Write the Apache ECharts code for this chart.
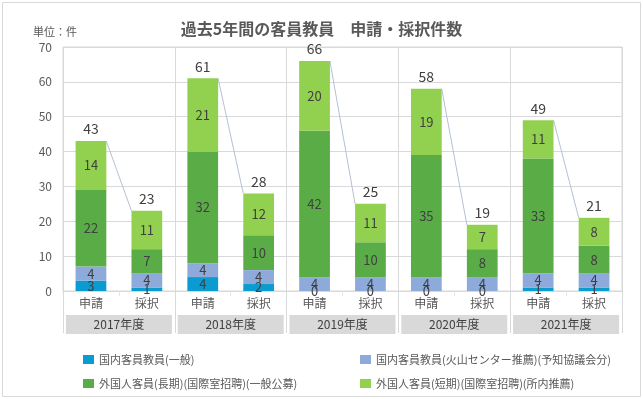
<!DOCTYPE html>
<html>
<head>
<meta charset="utf-8">
<script src="https://cdn.jsdelivr.net/npm/echarts@6/dist/echarts.min.js"></script>
<style>
  html, body { margin: 0; padding: 0; background: #fff; }
  #chart { width: 643px; height: 399px; }
</style>
</head>
<body>
<div id="chart"></div>
<script>
// データ
const categories = ['申請', '採択', '申請', '採択', '申請', '採択', '申請', '採択', '申請', '採択'];
const years = ['2017年度', '2018年度', '2019年度', '2020年度', '2021年度'];
const domesticGeneral = [3, 1, 4, 2, 0, 0, 0, 0, 1, 1];
const domesticVolcano = [4, 4, 4, 4, 4, 4, 4, 4, 4, 4];
const foreignLong = [22, 7, 32, 10, 42, 10, 35, 8, 33, 8];
const foreignShort = [14, 11, 21, 12, 20, 11, 19, 7, 11, 8];
const totals = [43, 23, 61, 28, 66, 25, 58, 19, 49, 21];
const yTicks = [0, 10, 20, 30, 40, 50, 60, 70];

const seriesNames = [
  '国内客員教員(一般)',
  '国内客員教員(火山センター推薦)(予知協議会分)',
  '外国人客員(長期)(国際室招聘)(一般公募)',
  '外国人客員(短期)(国際室招聘)(所内推薦)'
];
const colors = ['#0a9bd0', '#8eaadb', '#5aac47', '#92d050'];
const FONT = '"Noto Sans CJK JP", "Noto Sans", sans-serif';
const BAR_RATIO = 0.55;

// 申請→採択 のシリーズ線
const seriesLines = [];
for (let i = 0; i < categories.length; i += 2) {
  seriesLines.push([i, totals[i], i + 1, totals[i + 1]]);
}

const chart = echarts.init(document.getElementById('chart'));

function segSeries(name, data, color) {
  return {
    name: name,
    type: 'bar',
    stack: 'all',
    data: data,
    barWidth: (BAR_RATIO * 100) + '%',
    itemStyle: { color: color },
    label: {
      show: true,
      position: 'inside',
      color: '#404040',
      fontSize: 13,
      fontFamily: FONT
    },
    emphasis: { disabled: true }
  };
}

const option = {
  animation: false,
  textStyle: { fontFamily: FONT },
  title: {
    text: '過去5年間の客員教員　申請・採択件数',
    left: 'center',
    top: 16,
    textStyle: { fontSize: 16, fontWeight: 'bold', color: '#595959', fontFamily: FONT }
  },
  graphic: [
    {
      type: 'rect',
      shape: { x: 2.5, y: 2.5, width: 638, height: 394 },
      style: { fill: 'none', stroke: '#d9d9d9', lineWidth: 1 }
    },
    {
      type: 'text',
      left: 33,
      top: 26,
      style: { text: '単位：件', fill: '#595959', fontSize: 11, fontFamily: FONT }
    }
  ],
  legend: [
    {
      data: [seriesNames[0], seriesNames[2]],
      orient: 'vertical',
      left: 78,
      top: 349,
      itemGap: 13,
      itemWidth: 11,
      itemHeight: 9,
      icon: 'rect',
      textStyle: { color: '#595959', fontSize: 11, fontFamily: FONT }
    },
    {
      data: [seriesNames[1], seriesNames[3]],
      orient: 'vertical',
      left: 355,
      top: 349,
      itemGap: 13,
      itemWidth: 11,
      itemHeight: 9,
      icon: 'rect',
      textStyle: { color: '#595959', fontSize: 11, fontFamily: FONT }
    }
  ],
  grid: { left: 63, right: 21, top: 47, bottom: 108, show: true, borderColor: '#d9d9d9', borderWidth: 1 },
  xAxis: [
    {
      type: 'category',
      data: categories,
      axisLine: { lineStyle: { color: '#d9d9d9' } },
      axisTick: { show: true, length: 5, lineStyle: { color: '#e6e6e6' } },
      axisLabel: { color: '#595959', fontSize: 12, margin: 6, interval: 0, fontFamily: FONT }
    },
    {
      type: 'category',
      data: years,
      position: 'bottom',
      axisLine: { show: false },
      axisTick: { show: true, length: 42, lineStyle: { color: '#d9d9d9' } },
      splitLine: { show: true, lineStyle: { color: '#d9d9d9' } },
      axisLabel: {
        color: '#404040',
        fontSize: 12,
        margin: 24,
        interval: 0,
        fontFamily: FONT,
        backgroundColor: '#d9d9d9',
        width: 106,
        height: 19,
        lineHeight: 19,
        align: 'center'
      }
    }
  ],
  yAxis: {
    type: 'value',
    min: yTicks[0],
    max: yTicks[yTicks.length - 1],
    interval: 10,
    axisLine: { show: false },
    axisTick: { show: false },
    splitLine: { lineStyle: { color: '#d9d9d9' } },
    axisLabel: { color: '#595959', fontSize: 12, margin: 11, fontFamily: FONT }
  },
  series: [
    segSeries(seriesNames[0], domesticGeneral, colors[0]),
    segSeries(seriesNames[1], domesticVolcano, colors[1]),
    segSeries(seriesNames[2], foreignLong, colors[2]),
    segSeries(seriesNames[3], foreignShort, colors[3]),
    {
      name: 'total',
      type: 'bar',
      stack: 'all',
      data: totals.map(() => 0),
      barWidth: (BAR_RATIO * 100) + '%',
      itemStyle: { color: 'transparent' },
      label: {
        show: true,
        position: 'top',
        distance: 5,
        color: '#404040',
        fontSize: 14,
        fontFamily: FONT,
        formatter: (p) => String(totals[p.dataIndex])
      },
      emphasis: { disabled: true }
    },
    {
      name: 'lines',
      type: 'custom',
      data: seriesLines,
      encode: { x: [0, 2], y: [1, 3] },
      silent: true,
      z: 1,
      renderItem: function (params, api) {
        const p1 = api.coord([api.value(0), api.value(1)]);
        const p2 = api.coord([api.value(2), api.value(3)]);
        const half = api.size([1, 0])[0] * BAR_RATIO / 2;
        return {
          type: 'line',
          shape: { x1: p1[0] + half, y1: p1[1], x2: p2[0] - half, y2: p2[1] },
          style: { stroke: '#b4c0d4', lineWidth: 1 }
        };
      }
    }
  ]
};

chart.setOption(option);
</script>
</body>
</html>
